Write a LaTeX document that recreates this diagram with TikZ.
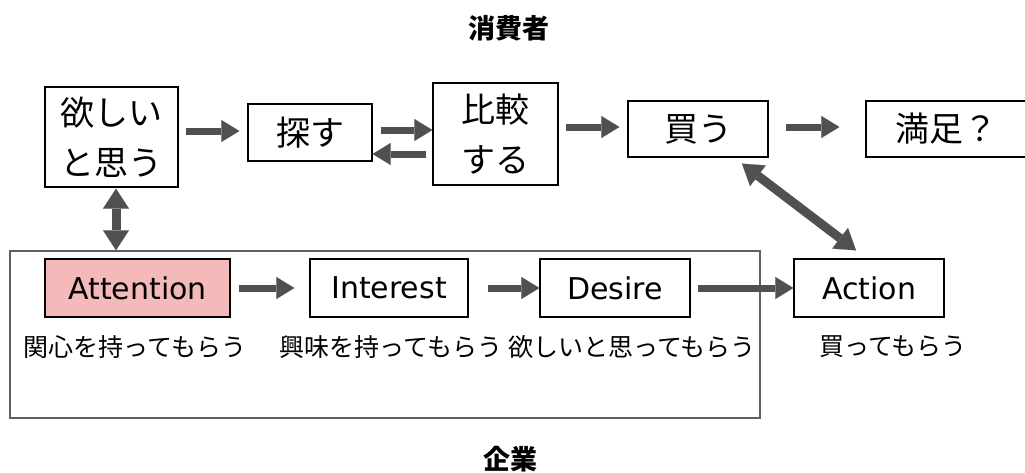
\documentclass[tikz,border=0pt]{standalone}
\usepackage{fontspec}
\setmainfont{Noto Sans CJK JP}
\newfontfamily\latinfont{DejaVu Sans}
\usetikzlibrary{arrows.meta}
\definecolor{arr}{HTML}{505050}
\definecolor{pinkfill}{HTML}{F4B9B9}
\definecolor{framegray}{HTML}{606060}
\begin{document}
\begin{tikzpicture}[x=1pt,y=-1pt,
 box/.style={draw=black, line width=1.3pt, inner sep=0pt, align=center, font=\fontsize{34}{50}\selectfont},
 abox/.style={draw=black, line width=1.3pt, inner sep=0pt, minimum height=58pt, font=\latinfont\fontsize{30}{36}\selectfont},
 lbl/.style={font=\fontsize{25}{28}\selectfont, inner sep=0pt},
 ttl/.style={font=\bfseries\fontsize{27}{30}\selectfont, inner sep=0pt},
 flow/.style={draw=arr, line width=7pt, -{Triangle[length=18pt,width=22pt,line width=0.1pt]}},
 both/.style={draw=arr, line width=9pt, {Triangle[length=20pt,width=26pt,line width=0.1pt]}-{Triangle[length=20pt,width=26pt,line width=0.1pt]}},
]
\useasboundingbox (0,0) rectangle (1025,472);
\fill[white] (0,0) rectangle (1025,472);

% titles
\node[ttl] (consumer) at (509,28) {消費者};
\node[ttl] (company) at (510,459) {企業};

% company frame
\node[draw=framegray, line width=1.5pt, minimum width=750pt, minimum height=167pt, inner sep=0pt] (frame) at (385,334.5) {};

% consumer boxes
\node[box, minimum width=133pt, minimum height=100pt] (want) at (111.5,137) {欲しい\\と思う};
\node[box, minimum width=124pt, minimum height=57pt] (search) at (310,132.5) {探す};
\node[box, minimum width=125pt, minimum height=102pt] (compare) at (495.5,134) {比較\\する};
\node[box, minimum width=140pt, minimum height=56pt] (buy) at (698,129) {買う};
\node[box, minimum width=160pt, minimum height=56pt] (sat) at (946,129) {満足？};

% AIDA boxes
\node[abox, fill=pinkfill, minimum width=185pt] (att) at (137.5,288) {Attention};
\node[abox, minimum width=158pt] (int) at (389,288) {Interest};
\node[abox, minimum width=150pt] (des) at (615,288) {Desire};
\node[abox, minimum width=150pt] (act) at (869,288) {Action};

% labels
\node[lbl] (latt) at (135,347) {関心を持ってもらう};
\node[lbl] (lint) at (391,347) {興味を持ってもらう};
\node[lbl] (ldes) at (632,347) {欲しいと思ってもらう};
\node[lbl] (lact) at (893,347) {買ってもらう};

% consumer arrows
\draw[flow, shorten <=7pt, shorten >=8pt] (want.east |- 0,131) -- (search.west |- 0,131);
\draw[flow, shorten <=8pt] (search.east |- 0,130) -- (compare.west |- 0,130);
\draw[flow, shorten <=6pt] (compare.west |- 0,154) -- (search.east |- 0,154);
\draw[flow, shorten <=7pt, shorten >=8pt] (compare.east |- 0,127) -- (buy.west |- 0,127);
\draw[flow, shorten <=17pt, shorten >=26pt] (buy.east |- 0,127) -- (sat.west |- 0,127);

% AIDA arrows
\draw[flow, shorten <=8pt, shorten >=15pt] (att.east) -- (int.west);
\draw[flow, shorten <=19pt] (int.east) -- (des.west);
\draw[flow, shorten <=7pt] (des.east) -- (act.west);

% double arrows
\draw[both] ([xshift=4.5pt,yshift=-1pt]want.south) -- ([xshift=4.5pt]want.south |- frame.north);
\draw[both] ([xshift=44pt,yshift=-6pt]buy.south) -- ([xshift=-13pt,yshift=8pt]act.north);
\end{tikzpicture}
\end{document}
